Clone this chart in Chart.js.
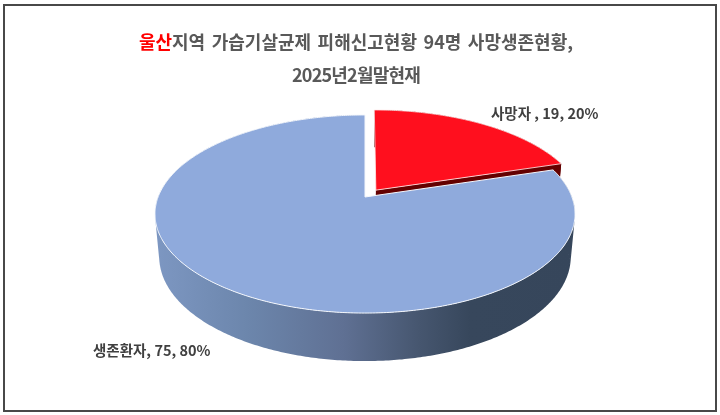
<!DOCTYPE html>
<html lang="ko">
<head>
<meta charset="utf-8">
<style>
  html, body { margin: 0; padding: 0; background: #fff; }
  #wrap { position: relative; width: 720px; height: 415px; overflow: hidden; }
  #frame { position: absolute; left: 3px; top: 4px; width: 710px; height: 404px; border: 2px solid #484848; }
  canvas { position: absolute; left: 0; top: 0; }
  .title { position: absolute; left: -4px; width: 720px; text-align: center; color: #595959; white-space: nowrap;
           font: 700 18px "Noto Sans CJK KR", sans-serif; }
  .title span { color: #ff0000; }
</style>
<script src="https://cdn.jsdelivr.net/npm/chart.js@4/dist/chart.umd.min.js"></script>
</head>
<body>
<div id="wrap">
  <div id="frame"></div>
  <canvas id="pie" width="720" height="415"></canvas>
  <div class="title" style="top:28px;word-spacing:1.5px"><span>울산</span>지역 가습기살균제 피해신고현황 94명 사망생존현황,</div>
  <div class="title" style="top:61px;letter-spacing:-0.8px">2025년2월말현재</div>
</div>
<script>
const categories = ['사망자 ', '생존환자'];
const values = [19, 75];
const percents = [20, 80];
const topColors = ['#ff0f1e', '#8faadc'];

// 3D look: unit circle -> screen, with perspective
function project(u, v, z) {
  const w = 1 - 0.1717 * v + 0.02 * z;
  return [365 + 206.9 * u / w, (62.3 * v + 197 + 47 * z) / w];
}

function slicePoints(arc, z) {
  // chart.js angles are from +x axis, clockwise on screen
  const mid = (arc.startAngle + arc.endAngle) / 2;
  const off = (arc.options.offset || 0) / arc.outerRadius;
  const ox = Math.cos(mid) * off, oy = Math.sin(mid) * off;
  const pts = [];
  const n = Math.ceil((arc.endAngle - arc.startAngle) * 90);
  for (let i = 0; i <= n; i++) {
    const a = arc.startAngle + (arc.endAngle - arc.startAngle) * i / n;
    pts.push(project(ox + Math.cos(a), oy + Math.sin(a), z));
  }
  return { rim: pts, apex: project(ox, oy, z) };
}

function fillPoly(ctx, pts, fill) {
  ctx.beginPath();
  pts.forEach((p, i) => i ? ctx.lineTo(p[0], p[1]) : ctx.moveTo(p[0], p[1]));
  ctx.closePath();
  ctx.fillStyle = fill;
  ctx.fill();
}

function signedArea(q) {
  let s = 0;
  q.forEach((p, i) => {
    const n = q[(i + 1) % q.length];
    s += p[0] * n[1] - n[0] * p[1];
  });
  return s;
}

// one path of many quads, so the sides of the wall come out straight with no seams
// all quads wound the same way or nonzero fill cancels where they overlap
function fillWall(ctx, top, low, fill) {
  ctx.beginPath();
  for (let i = 0; i < top.length - 1; i++) {
    const q = [top[i], top[i + 1], low[i + 1], low[i]];
    if (signedArea(q) < 0) q.reverse();
    q.forEach((p, k) => k ? ctx.lineTo(p[0], p[1]) : ctx.moveTo(p[0], p[1]));
    ctx.closePath();
  }
  ctx.fillStyle = fill;
  ctx.fill('nonzero');
}

const pie3d = {
  id: 'pie3d',
  beforeDatasetDraw(chart) {
    const ctx = chart.ctx;
    const arcs = chart.getDatasetMeta(0).data;
    const red = arcs[0], blue = arcs[1];
    const redTop = slicePoints(red, 0), redLow = slicePoints(red, 1);
    const blueTop = slicePoints(blue, 0), blueLow = slicePoints(blue, 1);

    // red side walls
    const dark = '#640000';
    fillPoly(ctx, [redTop.apex, redTop.rim[redTop.rim.length - 1], redLow.rim[redLow.rim.length - 1], redLow.apex], dark);
    fillWall(ctx, redTop.rim, redLow.rim, dark);

    // red top
    fillPoly(ctx, [redTop.apex].concat(redTop.rim), topColors[0]);
    ctx.strokeStyle = 'rgba(255,235,235,0.8)';
    ctx.lineWidth = 1;
    ctx.stroke();

    // blue side wall
    const g = ctx.createLinearGradient(155, 0, 575, 0);
    g.addColorStop(0, '#7d97c2');
    g.addColorStop(0.22, '#6c86ac');
    g.addColorStop(0.45, '#5f7093');
    g.addColorStop(0.63, '#46566f');
    g.addColorStop(0.75, '#37475c');
    g.addColorStop(1, '#36465b');
    fillWall(ctx, blueTop.rim, blueLow.rim, g);

    // blue top
    fillPoly(ctx, [blueTop.apex].concat(blueTop.rim), topColors[1]);
    ctx.strokeStyle = '#f4f7fc';
    ctx.lineWidth = 1;
    ctx.stroke();
    return false;
  },
  afterDatasetsDraw(chart) {
    const ctx = chart.ctx;
    ctx.save();
    ctx.font = '700 14.5px "Noto Sans CJK KR", sans-serif';
    ctx.fillStyle = '#404040';
    ctx.textBaseline = 'middle';
    ctx.fillText(categories[0] + ', ' + values[0] + ', ' + percents[0] + '%', 491, 113);
    ctx.fillText(categories[1] + ', ' + values[1] + ', ' + percents[1] + '%', 93, 350);
    ctx.restore();
  }
};

new Chart(document.getElementById('pie').getContext('2d'), {
  type: 'pie',
  data: {
    labels: categories,
    datasets: [{
      data: values,
      backgroundColor: topColors,
      offset: [16, 0]
    }]
  },
  options: {
    responsive: false,
    animation: false,
    layout: { padding: 20 },
    plugins: { legend: { display: false }, tooltip: { enabled: false } }
  },
  plugins: [pie3d]
});
</script>
</body>
</html>
